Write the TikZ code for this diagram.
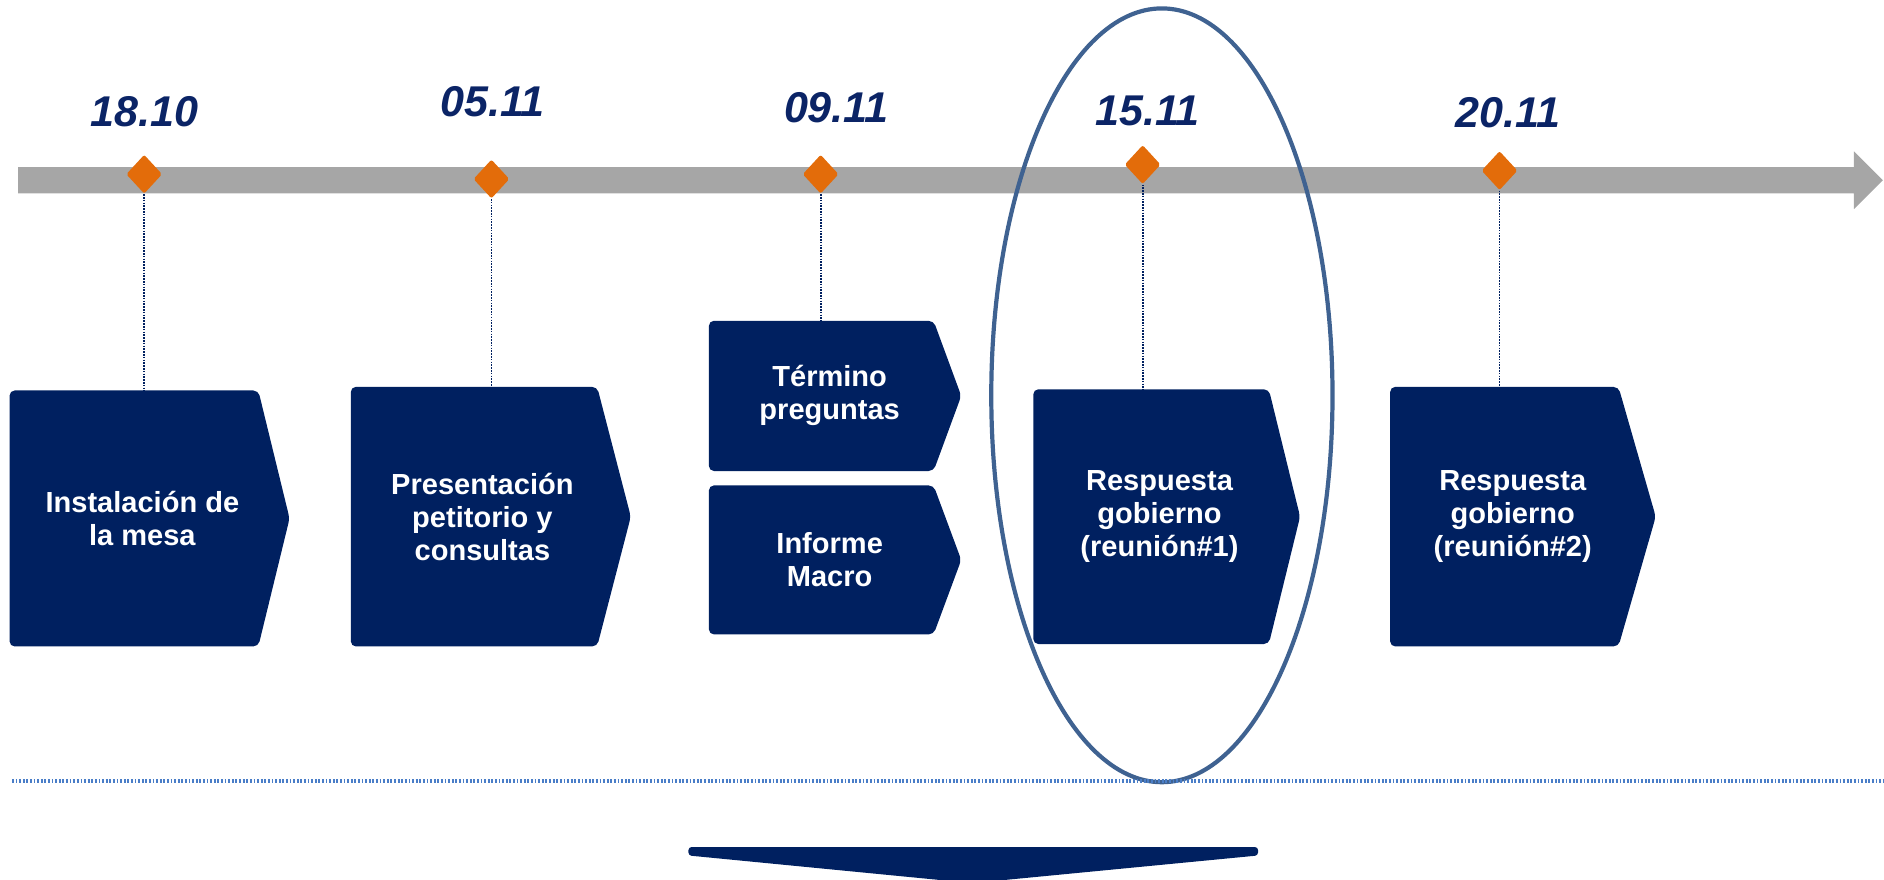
\documentclass[tikz,border=0pt]{standalone}
\usepackage{fontspec}
\setmainfont{Liberation Sans}
\usetikzlibrary{shapes.geometric}
\definecolor{navy}{HTML}{002060}
\definecolor{datec}{HTML}{0B2466}
\definecolor{orng}{HTML}{E36C0A}
\definecolor{barg}{HTML}{A6A6A6}
\definecolor{ellc}{HTML}{3F6291}
\definecolor{dotc}{HTML}{4A7EC8}
\tikzset{
 boxshape/.style={fill=navy, rounded corners=2.5},
 boxtext/.style={text=white, font=\fontsize{14.5}{16.5}\selectfont\bfseries, align=center, inner sep=0},
 datetext/.style={text=datec, font=\fontsize{21.5}{24}\selectfont\bfseries\itshape, inner sep=0},
 mstone/.style={diamond, fill=orng, minimum width=18pt, minimum height=19.5pt, inner sep=0, rounded corners=1},
 leader/.style={navy, line width=0.9pt, dash pattern=on 0.8pt off 0.6pt},
 sepline/.style={dotc, line width=1.6pt, dash pattern=on 0.9pt off 0.9pt},
}
\newcommand\chevbox[7]{%
 \fill[boxshape] (#2,#6) -- (#2,#5) -- (#3,#5) -- (#4,{(#5+#6)/2}) -- (#3,#6) -- cycle;
 \node[boxtext] (#1) at ({(#2+#3)/2+7},{(#5+#6)/2}) {#7};
 \coordinate (#1n) at (#2,#5);
}
\begin{document}
\begin{tikzpicture}[x=0.6pt, y=-0.6pt]
\useasboundingbox (0,0) rectangle (1568,732);
% time bar
\fill[barg] (15,139) -- (1543,139) -- (1543,126) -- (1567,150) -- (1543,174) -- (1543,161) -- (15,161) -- cycle;
% boxes
\chevbox{b1}{8}{215}{241}{325}{538}{Instalación de\\la mesa}
\chevbox{b2}{292}{497}{525}{322}{538}{Presentación\\petitorio y\\consultas}
\chevbox{b3}{590}{777}{800}{267}{392}{Término\\preguntas}
\chevbox{b3b}{590}{777}{800}{404}{528}{Informe\\Macro}
\chevbox{b4}{860}{1056}{1082}{324}{536}{Respuesta\\gobierno\\(reunión\#1)}
\chevbox{b5}{1157}{1347}{1378}{322}{538}{Respuesta\\gobierno\\(reunión\#2)}
% milestones
\node[mstone] (d1) at (120,145) {};
\node[mstone] (d2) at (409,149) {};
\node[mstone] (d3) at (683,145) {};
\node[mstone] (d4) at (951,137) {};
\node[mstone] (d5) at (1248,142) {};
% dates
\node[datetext] (t1) at (120,93) {18.10};
\node[datetext] (t2) at (410,85) {05.11};
\node[datetext] (t3) at (696,90) {09.11};
\node[datetext] (t4) at (955,92) {15.11};
\node[datetext] (t5) at (1255,94) {20.11};
% leaders
\draw[leader] (d1.south) -- (d1.south |- b1n);
\draw[leader] (d2.south) -- (d2.south |- b2n);
\draw[leader] (d3.south) -- (d3.south |- b3n);
\draw[leader] (d4.south) -- (d4.south |- b4n);
\draw[leader] (d5.south) -- (d5.south |- b5n);
% highlight ellipse
\draw[ellc, line width=2.1pt] (967,329) ellipse [x radius=142, y radius=322];
% separator
\draw[sepline] (10,650) -- (1568,650);
% bottom arrow
\fill[navy, rounded corners=1.5] (573,705) -- (1047,705) -- (1047,712) -- (809,735) -- (573,712) -- cycle;
\end{tikzpicture}
\end{document}
